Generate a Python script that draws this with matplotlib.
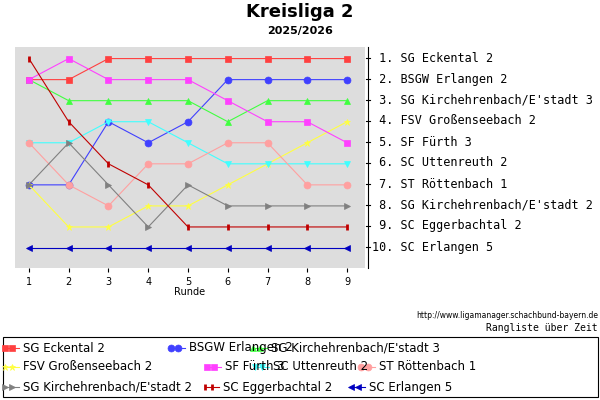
import matplotlib
matplotlib.use("Agg")
import matplotlib.pyplot as plt
from matplotlib.lines import Line2D
from matplotlib.patches import Rectangle

rounds = [1, 2, 3, 4, 5, 6, 7, 8, 9]
teams = ["SG Eckental 2", "BSGW Erlangen 2", "SG Kirchehrenbach/E'stadt 3",
         "FSV Großenseebach 2", "SF Fürth 3", "SC Uttenreuth 2",
         "ST Röttenbach 1", "SG Kirchehrenbach/E'stadt 2", "SC Eggerbachtal 2",
         "SC Erlangen 5"]
ranks = [
    [2, 2, 1, 1, 1, 1, 1, 1, 1],
    [7, 7, 4, 5, 4, 2, 2, 2, 2],
    [2, 3, 3, 3, 3, 4, 3, 3, 3],
    [7, 9, 9, 8, 8, 7, 6, 5, 4],
    [2, 1, 2, 2, 2, 3, 4, 4, 5],
    [5, 5, 4, 4, 5, 6, 6, 6, 6],
    [5, 7, 8, 6, 6, 5, 5, 7, 7],
    [7, 5, 7, 9, 7, 8, 8, 8, 8],
    [1, 4, 6, 7, 9, 9, 9, 9, 9],
    [10, 10, 10, 10, 10, 10, 10, 10, 10],
]
final_order = ["SG Eckental 2", "BSGW Erlangen 2", "SG Kirchehrenbach/E'stadt 3",
               "FSV Großenseebach 2", "SF Fürth 3", "SC Uttenreuth 2",
               "ST Röttenbach 1", "SG Kirchehrenbach/E'stadt 2", "SC Eggerbachtal 2",
               "SC Erlangen 5"]
colors = ["#ff4040", "#4040ff", "#40ff40", "#ffff40", "#ff40ff", "#40ffff",
          "#ffa0a0", "#808080", "#c00000", "#0000c0"]
markers = ["s", "o", "^", "*", "s", "v", "o", ">", "|", "<"]

fig = plt.figure(figsize=(6, 4), dpi=100)
ax = fig.add_axes([15/600, 1-268/400, 350/600, 221/400])
ax.set_facecolor("#dddddd")
for i in range(10):
    mk = markers[i]
    ax.plot(rounds, ranks[i], color=colors[i], lw=0.8, marker=mk, ms=5,
            mew=2 if mk == "|" else 0.5, label=teams[i])
ax.set_xlim(0.65, 9.45)
ax.set_ylim(10.95, 0.45)
ax.set_xticks(rounds)
ax.tick_params(axis="x", labelsize=7, length=3)
ax.set_yticks([])
for s in ["top", "right", "left", "bottom"]:
    ax.spines[s].set_visible(False)
ax.text(0.5, -0.12, "Runde", transform=ax.transAxes, ha="center", fontsize=7)

fig.text(0.5, 1-12/400, "Kreisliga 2", ha="center", va="center", fontsize=13, weight="bold")
fig.text(0.5, 1-31/400, "2025/2026", ha="center", va="center", fontsize=8, weight="bold")

for k, name in enumerate(final_order):
    yy = 1 - (58 + 21*k)/400
    fig.text(372/600, yy, f"{k+1:>2}. {name}", ha="left", va="center",
             fontsize=8.5, family="DejaVu Sans Mono")
fig.add_artist(Line2D([368/600, 368/600], [1-47/400, 1-268/400], color="black", lw=0.8))
for k in range(10):
    yy = 1 - (58 + 21*k)/400
    fig.add_artist(Line2D([366/600, 370/600], [yy, yy], color="black", lw=0.8))

fig.text(598/600, 1-316/400, "http://www.ligamanager.schachbund-bayern.de", ha="right",
         va="center", fontsize=5.5)
fig.text(598/600, 1-328/400, "Rangliste über Zeit", ha="right", va="center",
         fontsize=7, family="DejaVu Sans Mono")

# legend, laid out in flowing rows as in the reference
fig.add_artist(Rectangle((3/600, 1-397/400), 595/600, 60/400, transform=fig.transFigure,
                         fill=False, edgecolor="black", lw=0.8))
entries = [(0, 12, 348), (1, 178, 348), (2, 260, 348),
           (3, 12, 367), (4, 214, 367), (5, 262, 367), (6, 368, 367),
           (7, 12, 387), (8, 212, 387), (9, 358, 387)]
for i, mx, my in entries:
    yy = 1 - my/400
    mk = markers[i]
    fig.add_artist(Line2D([(mx-7)/600, (mx+7)/600], [yy, yy], color=colors[i], lw=0.8,
                          marker=mk, ms=5, mew=2 if mk == "|" else 0.5,
                          markevery=[0], transform=fig.transFigure))
    fig.add_artist(Line2D([mx/600], [yy], color=colors[i], marker=mk, ms=5,
                          mew=2 if mk == "|" else 0.5, transform=fig.transFigure))
    fig.text((mx+11)/600, yy, teams[i], ha="left", va="center", fontsize=8.5)

fig.savefig("out.png", dpi=100)
